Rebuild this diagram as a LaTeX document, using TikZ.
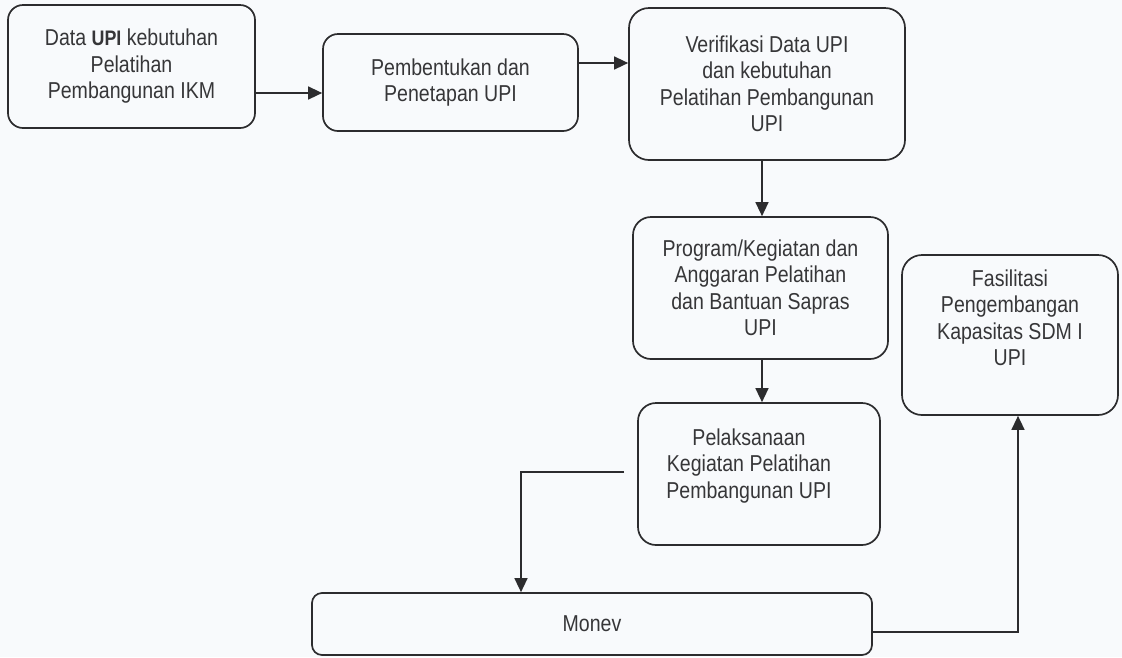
\documentclass[tikz,border=0pt]{standalone}
\usepackage{fontspec}
\setmainfont{Liberation Sans}[FakeStretch=0.85]
\usetikzlibrary{arrows.meta}
\definecolor{ink}{RGB}{44,44,46}
\definecolor{txt}{RGB}{54,54,56}
\definecolor{paper}{RGB}{248,250,252}
\begin{document}
\begin{tikzpicture}[x=1pt,y=-1pt,
  box/.style 2 args={draw=ink, line width=1.7pt, rounded corners=15pt,
    minimum width=#1, minimum height=#2, inner sep=0pt, align=center,
    font=\fontsize{23}{26.5}\selectfont, text=txt},
  lbl/.style={inner sep=0pt, align=center,
    font=\fontsize{23}{26.5}\selectfont, text=txt},
  arr/.style={draw=ink, line width=1.4pt,
    -{Triangle[length=14pt,width=13pt]}}]

% page
\fill[paper] (0,0) rectangle (1122,657);
\useasboundingbox (0,0) rectangle (1122,657);

% process boxes
\node[box={247pt}{123pt}] (b1) at (131.5,66.5)
  {Data {\fontsize{21}{26.5}\selectfont\bfseries UPI} kebutuhan\\Pelatihan\\Pembangunan IKM};
\node[box={255pt}{97pt}] (b2) at (450.5,82.5)
  {Pembentukan dan\\Penetapan UPI};
\node[box={276pt}{152pt}, rounded corners=20pt] (b3) at (767,84)
  {Verifikasi Data UPI\\dan kebutuhan\\Pelatihan Pembangunan\\UPI};
\node[box={255pt}{142pt}, rounded corners=18pt] (b4) at (760.5,288)
  {Program/Kegiatan dan\\Anggaran Pelatihan\\dan Bantuan Sapras\\UPI};
\node[box={242pt}{142pt}, rounded corners=18pt] (b6) at (759,474) {};
\node[lbl] (t6) at (749,466)
  {Pelaksanaan\\Kegiatan Pelatihan\\Pembangunan UPI};
\node[box={216pt}{160pt}, rounded corners=20pt] (b5) at (1010,335) {};
\node[lbl] (t5) at (1010,318)
  {Fasilitasi\\Pengembangan\\Kapasitas SDM I\\UPI};
\node[box={560pt}{62pt}, rounded corners=10pt] (mon) at (592,624) {Monev};

% drop point of the return line
\coordinate (drop) at (521,593);

% connectors
\draw[arr] ([yshift=-26.5pt]b1.east) -- ([yshift=-26.5pt]b1.east -| b2.west);
\draw[arr] ([yshift=19.5pt]b2.east) -- ([yshift=19.5pt]b2.east -| b3.west);
\draw[arr] ([xshift=-5pt]b3.south) -- ([xshift=-5pt]b3.south |- b4.north);
\draw[arr] ([xshift=1.5pt]b4.south) -- ([xshift=1.5pt]b4.south |- b6.north);
\draw[arr, shorten <=13pt] ([yshift=2pt]b6.west) -| (mon.north -| drop);
\draw[arr] ([yshift=-8pt]mon.east) -| ([xshift=8pt]b5.south);
\end{tikzpicture}
\end{document}
